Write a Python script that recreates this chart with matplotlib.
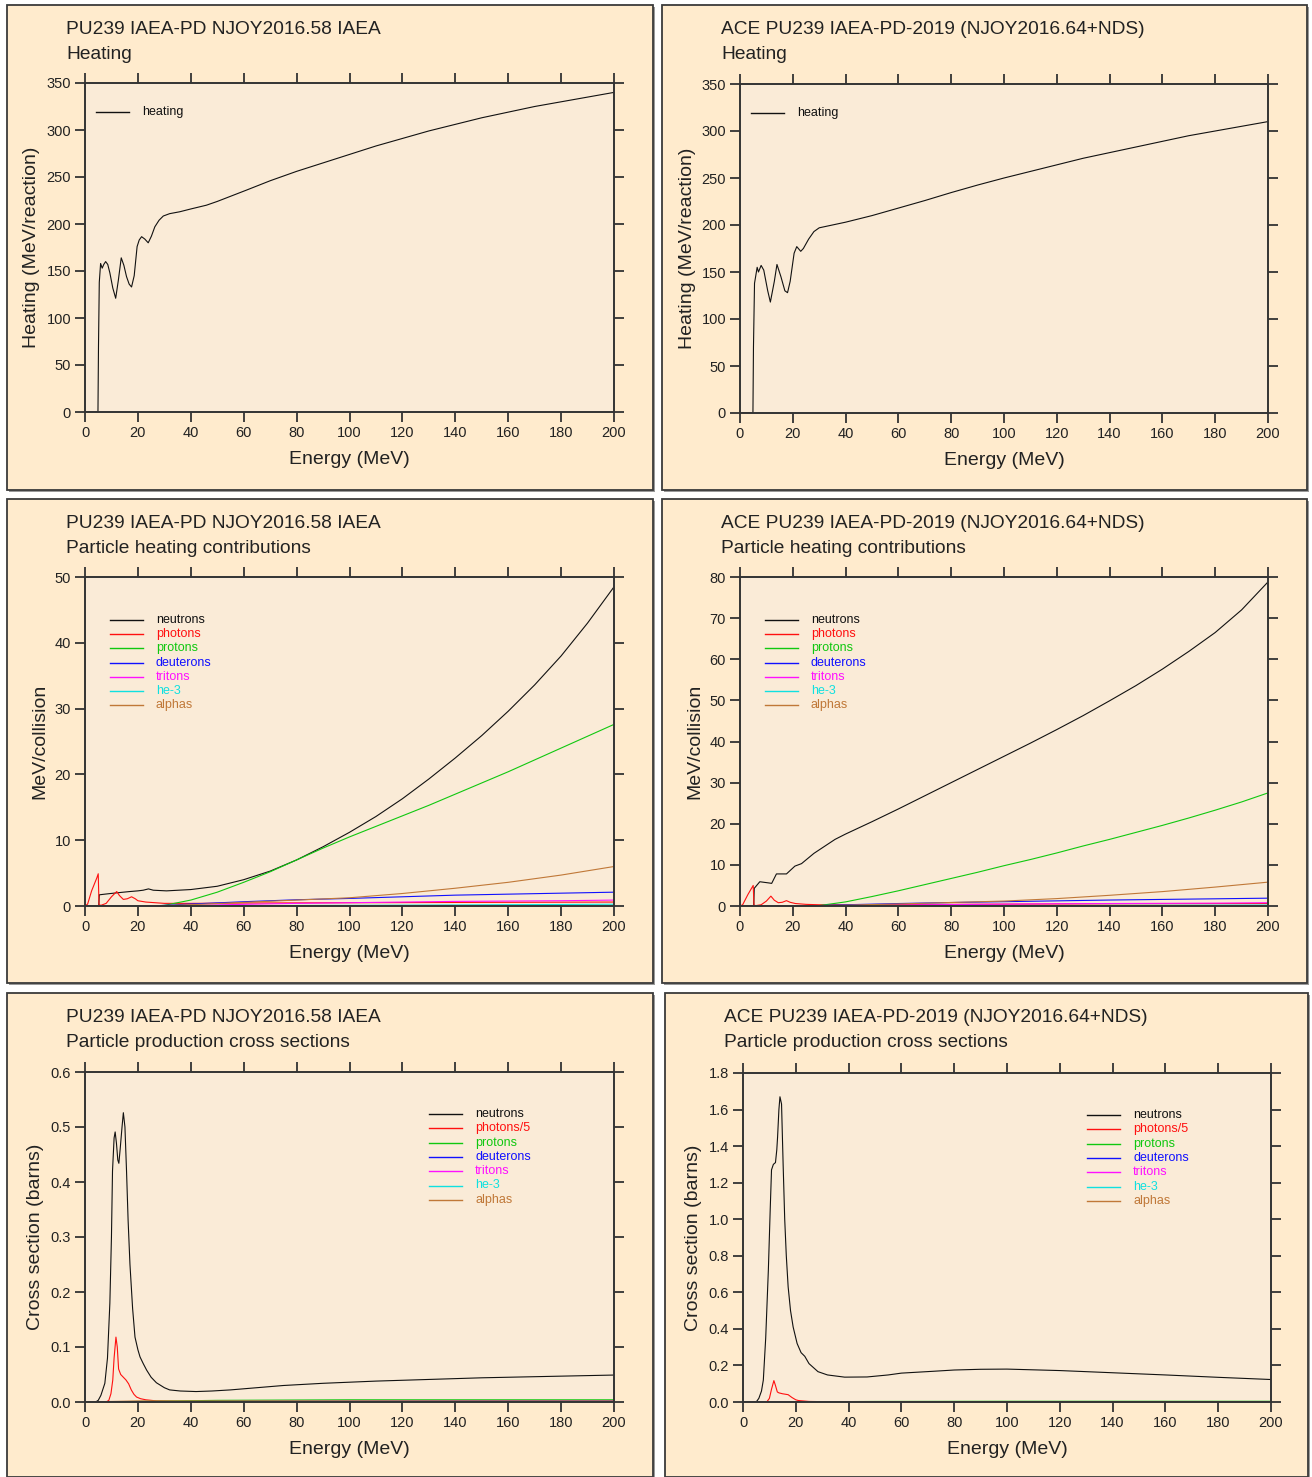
import matplotlib
matplotlib.use('Agg')
import matplotlib.pyplot as plt
from matplotlib.patches import Rectangle

plt.rcParams['font.family'] = ['Liberation Sans', 'DejaVu Sans']

W, H = 1312, 1477

# ---------------- data ----------------
particles = ['neutrons', 'photons', 'protons', 'deuterons', 'tritons', 'he-3', 'alphas']
colors = ['#111111', '#ff1010', '#10c810', '#1010ff', '#ff10ff', '#10e0e0', '#c07838']

# Heating, IAEA (top left)
e_heat_a = [0, 4.9, 5.1, 5.4, 5.9, 6.5, 7.1, 7.8, 8.6, 9.4, 10.5, 11.6, 12.6, 13.7, 14.7, 15.7, 16.7,
            17.6, 18.6, 19.7, 20.5, 21.4, 22.6, 23.9, 25.1, 26.4, 28, 29.6, 32, 35.8, 40, 45.9, 50,
            61, 70, 80, 90, 100, 110, 120, 130, 140, 150, 160, 170, 180, 190, 200]
heat_a = [0, 0, 70, 138, 158, 153, 157, 160, 157, 148, 132, 121, 140, 164, 156, 144, 136,
          133, 145, 176, 183, 186.5, 184, 180, 187, 197, 204, 208.5, 211, 213, 216, 220, 224,
          236, 246, 256, 265, 274, 283, 291, 299, 306, 313, 319, 325, 330, 335, 340]

# Heating, NDS (top right)
e_heat_b = [0, 4.9, 5.1, 5.5, 6.5, 7, 8, 9, 10.5, 11.5, 13, 14, 15.5, 17, 18, 19, 20.5, 21.5,
            23, 24, 26, 28, 30, 35, 40, 50, 60, 70, 80, 90, 100, 110, 120, 130, 140, 150, 160,
            170, 180, 190, 200]
heat_b = [0, 0, 70, 138, 155, 150, 157, 152, 130, 118, 140, 158, 145, 130, 128, 140, 170, 177,
          172, 175, 185, 193, 197, 200, 203, 210, 218, 226, 234.5, 242.5, 250, 257, 264, 271, 277,
          283, 289, 295, 300, 305, 310]

# Particle heating contributions, IAEA (middle left)
e_ml_n = [0, 5.2, 5.4, 7.5, 12, 17, 20, 22, 24, 25.8, 30.8, 40, 50, 60, 70, 80, 90, 100, 110,
          120, 130, 140, 150, 160, 170, 180, 190, 200]
ml_n = [0, 0, 1.7, 1.8, 2.0, 2.2, 2.3, 2.4, 2.6, 2.4, 2.3, 2.5, 3.0, 4.0, 5.3, 7.0, 9.0, 11.2, 13.6,
        16.3, 19.3, 22.5, 25.9, 29.6, 33.6, 38.0, 43.0, 48.5]
e_ml_g = [0, 1, 2.5, 4.5, 5, 5.3, 6, 8, 10, 12, 13, 14.5, 16, 17.6, 19, 20, 23, 30, 40, 60, 100, 150, 200]
ml_g = [0, 0.3, 2.3, 4.3, 4.9, 0.2, 0.1, 0.4, 1.4, 2.2, 1.6, 1.0, 1.1, 1.4, 1.1, 0.8, 0.6, 0.4, 0.4,
        0.45, 0.5, 0.55, 0.6]
e_ml_p = [0, 27, 30, 40, 50, 60, 70, 80, 90, 100, 110, 120, 130, 140, 150, 160, 170, 180, 190, 200]
ml_p = [0, 0, 0.1, 0.9, 2.1, 3.6, 5.2, 7.0, 8.8, 10.5, 12.1, 13.7, 15.3, 17.0, 18.7, 20.4, 22.2,
        24.0, 25.8, 27.6]
e_ml_x = [0, 25, 40, 60, 80, 100, 120, 140, 160, 180, 200]
ml_d = [0, 0, 0.3, 0.65, 0.95, 1.15, 1.4, 1.65, 1.8, 1.95, 2.1]
ml_t = [0, 0, 0.1, 0.25, 0.4, 0.5, 0.6, 0.7, 0.75, 0.8, 0.9]
ml_h = [0, 0, 0.02, 0.05, 0.08, 0.1, 0.13, 0.16, 0.2, 0.23, 0.27]
ml_a = [0, 0, 0.2, 0.55, 0.9, 1.25, 1.9, 2.7, 3.6, 4.7, 6.0]

# Particle heating contributions, NDS (middle right)
e_mr_n = [0, 5.2, 5.4, 7.5, 11, 12, 13.8, 17.6, 20.8, 23.3, 28, 36, 40, 50, 60, 70, 80, 90, 100,
          110, 120, 130, 140, 150, 160, 170, 180, 190, 200]
mr_n = [0, 0, 4.3, 5.9, 5.6, 5.5, 7.8, 7.8, 9.7, 10.3, 12.8, 16.2, 17.5, 20.5, 23.6, 26.8, 30,
        33.2, 36.4, 39.6, 42.9, 46.3, 49.9, 53.6, 57.6, 61.9, 66.5, 72, 78.8]
e_mr_g = [0, 1, 3, 5, 5.3, 6, 8, 10, 11.7, 13, 14.5, 16, 17.6, 19, 21, 25, 30, 60, 100, 150, 200]
mr_g = [0, 0.3, 2.8, 5.0, 0.2, 0.1, 0.3, 1.2, 2.4, 1.4, 0.8, 0.9, 1.3, 0.9, 0.6, 0.4, 0.3, 0.35,
        0.45, 0.55, 0.6]
e_mr_p = [0, 28, 30, 40, 50, 60, 70, 80, 90, 100, 110, 120, 130, 140, 150, 160, 170, 180, 190, 200]
mr_p = [0, 0, 0.1, 1.0, 2.3, 3.7, 5.2, 6.7, 8.2, 9.8, 11.3, 12.9, 14.6, 16.2, 17.9, 19.6, 21.4,
        23.3, 25.3, 27.5]
e_mr_x = [0, 25, 40, 60, 80, 100, 120, 140, 160, 180, 200]
mr_d = [0, 0, 0.3, 0.6, 0.85, 1.05, 1.25, 1.45, 1.6, 1.75, 1.9]
mr_t = [0, 0, 0.1, 0.25, 0.35, 0.45, 0.55, 0.6, 0.65, 0.7, 0.8]
mr_h = [0, 0, 0.02, 0.05, 0.07, 0.09, 0.11, 0.14, 0.17, 0.2, 0.23]
mr_a = [0, 0, 0.2, 0.5, 0.85, 1.2, 1.8, 2.6, 3.5, 4.6, 5.8]

# Particle production cross sections, IAEA (bottom left)
e_bl_n = [0, 4, 5, 6, 7.5, 8.5, 9.4, 10, 10.4, 11, 11.4, 11.9, 12.4, 12.8, 13.3, 14, 14.5, 15.1,
          15.7, 16.3, 17, 18, 18.9, 20, 20.8, 22, 23.3, 25, 27, 30, 32, 36, 42, 48, 55, 65, 75,
          90, 110, 130, 150, 170, 190, 200]
bl_n = [0, 0, 0.003, 0.012, 0.034, 0.08, 0.18, 0.3, 0.42, 0.48, 0.491, 0.47, 0.44, 0.434, 0.46,
        0.5, 0.526, 0.5, 0.42, 0.33, 0.25, 0.17, 0.118, 0.095, 0.082, 0.07, 0.058, 0.045, 0.035,
        0.026, 0.022, 0.02, 0.019, 0.02, 0.022, 0.026, 0.03, 0.034, 0.038, 0.041, 0.044, 0.046,
        0.048, 0.049]
e_bl_g = [0, 8, 9, 9.8, 10.5, 11, 11.7, 12.2, 12.7, 13.5, 14.5, 15.5, 16.5, 17.5, 18.5, 19.5, 21,
          23, 27, 35, 200]
bl_g = [0, 0, 0.003, 0.015, 0.04, 0.08, 0.118, 0.1, 0.06, 0.05, 0.045, 0.04, 0.033, 0.022, 0.014,
        0.009, 0.006, 0.004, 0.002, 0.001, 0.0005]
e_bl_x = [0, 20, 50, 100, 150, 200]
bl_p = [0, 0.001, 0.003, 0.004, 0.004, 0.004]
bl_d = [0, 0.0005, 0.001, 0.0015, 0.002, 0.002]
bl_t = [0, 0.0003, 0.0008, 0.001, 0.0012, 0.0013]
bl_h = [0, 0.0001, 0.0003, 0.0005, 0.0006, 0.0007]
bl_a = [0, 0.002, 0.002, 0.002, 0.002, 0.002]

# Particle production cross sections, NDS (bottom right)
e_br_n = [0, 5, 6, 7, 7.7, 8.6, 9.6, 10.3, 10.8, 11.5, 12.3, 12.8, 13.1, 13.6, 14, 14.6, 15.2,
          15.8, 16.4, 17.1, 18, 19, 20.5, 22, 23.4, 25, 28.4, 32, 38.5, 47, 55, 60, 72, 80, 90,
          100, 120, 140, 160, 180, 200]
br_n = [0, 0, 0.02, 0.06, 0.12, 0.35, 0.72, 1.05, 1.27, 1.3, 1.31, 1.38, 1.45, 1.6, 1.67, 1.63,
        1.3, 1.0, 0.8, 0.63, 0.5, 0.41, 0.32, 0.27, 0.25, 0.21, 0.166, 0.148, 0.136, 0.137, 0.148,
        0.158, 0.168, 0.175, 0.179, 0.18, 0.172, 0.16, 0.148, 0.135, 0.123]
e_br_g = [0, 9, 10, 10.8, 11.7, 12.3, 13, 13.6, 15, 17.1, 18.5, 20, 21, 25, 35, 200]
br_g = [0, 0, 0.02, 0.07, 0.117, 0.09, 0.055, 0.05, 0.045, 0.04, 0.025, 0.012, 0.008, 0.003,
        0.001, 0.0005]
e_br_x = [0, 20, 50, 100, 150, 200]
br_p = [0, 0.001, 0.003, 0.004, 0.004, 0.004]
br_d = [0, 0.0005, 0.001, 0.0015, 0.002, 0.002]
br_t = [0, 0.0003, 0.0008, 0.001, 0.0012, 0.0013]
br_h = [0, 0.0001, 0.0003, 0.0005, 0.0006, 0.0007]
br_a = [0, 0.002, 0.002, 0.002, 0.002, 0.002]

xticks = list(range(0, 201, 20))

fig = plt.figure(figsize=(W / 100, H / 100), dpi=100)
fig.patch.set_facecolor('white')


def fx(px):
    return px / W


def fy(py):
    return 1 - py / H


def panel_box(l, t, r, b):
    # grey drop shadow, then the peach panel (kept below the axes)
    fig.patches.append(Rectangle((fx(l + 2), fy(b + 2)), fx(r - l), (b - t) / H,
                                 transform=fig.transFigure, facecolor='#9a9a9a',
                                 edgecolor='none', zorder=-2))
    fig.patches.append(Rectangle((fx(l), fy(b)), fx(r - l), (b - t) / H,
                                 transform=fig.transFigure, facecolor='#ffebcd',
                                 edgecolor='#3a3a3a', lw=1.3, zorder=-1))


def make_axes(box, ax_px, title1, title2, ylabel, ylab_x, ymax, ystep, yfmt):
    l, t, r, b = box
    panel_box(l, t, r, b)
    al, at, ar, ab = ax_px
    ax = fig.add_axes([fx(al), fy(ab), (ar - al) / W, (ab - at) / H])
    ax.set_facecolor('#faebd7')
    ax.set_xlim(0, 200)
    ax.set_ylim(0, ymax)
    ax.set_xticks(xticks)
    yt = [i * ystep for i in range(int(round(ymax / ystep)) + 1)]
    ax.set_yticks(yt)
    ax.set_yticklabels([yfmt.format(v) for v in yt])
    for s in ax.spines.values():
        s.set_color('#333333')
        s.set_linewidth(1.4)
    ax.tick_params(direction='out', length=7.5, width=1.3, color='#333333',
                   top=True, right=True, labelsize=10.5, labelcolor='#222222', pad=2.5)
    fig.text(fx(l + 59), fy(t + 25), title1, fontsize=13.8, color='#222222', va='center')
    fig.text(fx(l + 59), fy(t + 49.5), title2, fontsize=13.8, color='#222222', va='center')
    fig.text(fx((al + ar) / 2), fy(ab + 47), 'Energy (MeV)', fontsize=14, color='#222222',
             ha='center', va='center')
    fig.text(fx(ylab_x), fy((at + ab) / 2), ylabel, fontsize=14, color='#222222',
             ha='center', va='center', rotation=90)
    return ax


def legend(ax, ax_px, names, cols, x0, y0, dy):
    al, at, ar, ab = ax_px
    w, h = ar - al, ab - at
    for i, (nm, c) in enumerate(zip(names, cols)):
        yy = 1 - (y0 + i * dy - at) / h
        ax.plot([(x0 - al) / w, (x0 + 33 - al) / w], [yy, yy], color=c, lw=1.0,
                transform=ax.transAxes)
        ax.text((x0 + 46 - al) / w, yy, nm, color=c, fontsize=9, va='center',
                transform=ax.transAxes)


LW = 0.8

# top left
box = (7, 5, 653, 490)
apx = (85, 83, 614, 412)
ax = make_axes(box, apx, 'PU239 IAEA-PD NJOY2016.58 IAEA', 'Heating',
               'Heating (MeV/reaction)', 32, 350, 50, '{:.0f}')
ax.plot(e_heat_a, heat_a, color=colors[0], lw=LW)
legend(ax, apx, ['heating'], [colors[0]], 96, 112, 14)

# top right
box = (662, 5, 1307, 490)
apx = (740, 84, 1268, 413)
ax = make_axes(box, apx, 'ACE PU239 IAEA-PD-2019 (NJOY2016.64+NDS)', 'Heating',
               'Heating (MeV/reaction)', 687, 350, 50, '{:.0f}')
ax.plot(e_heat_b, heat_b, color=colors[0], lw=LW)
legend(ax, apx, ['heating'], [colors[0]], 751, 113, 14)

# middle left
box = (7, 499, 653, 983)
apx = (85, 577, 614, 906)
ax = make_axes(box, apx, 'PU239 IAEA-PD NJOY2016.58 IAEA', 'Particle heating contributions',
               'MeV/collision', 40, 50, 10, '{:.0f}')
series = [(e_ml_n, ml_n), (e_ml_g, ml_g), (e_ml_p, ml_p), (e_ml_x, ml_d), (e_ml_x, ml_t),
          (e_ml_x, ml_h), (e_ml_x, ml_a)]
for (e, v), c in zip(series, colors):
    ax.plot(e, v, color=c, lw=LW)
legend(ax, apx, particles, colors, 110, 620, 14.2)

# middle right
box = (662, 499, 1307, 983)
apx = (740, 577, 1268, 906)
ax = make_axes(box, apx, 'ACE PU239 IAEA-PD-2019 (NJOY2016.64+NDS)',
               'Particle heating contributions', 'MeV/collision', 695, 80, 10, '{:.0f}')
series = [(e_mr_n, mr_n), (e_mr_g, mr_g), (e_mr_p, mr_p), (e_mr_x, mr_d), (e_mr_x, mr_t),
          (e_mr_x, mr_h), (e_mr_x, mr_a)]
for (e, v), c in zip(series, colors):
    ax.plot(e, v, color=c, lw=LW)
legend(ax, apx, particles, colors, 765, 620, 14.2)

names_xs = ['neutrons', 'photons/5', 'protons', 'deuterons', 'tritons', 'he-3', 'alphas']

# bottom left
box = (7, 993, 653, 1477)
apx = (85, 1072, 614, 1402)
ax = make_axes(box, apx, 'PU239 IAEA-PD NJOY2016.58 IAEA', 'Particle production cross sections',
               'Cross section (barns)', 36, 0.6, 0.1, '{:.1f}')
series = [(e_bl_n, bl_n), (e_bl_g, bl_g), (e_bl_x, bl_p), (e_bl_x, bl_d), (e_bl_x, bl_t),
          (e_bl_x, bl_h), (e_bl_x, bl_a)]
for (e, v), c in zip(series, colors):
    ax.plot(e, v, color=c, lw=LW)
legend(ax, apx, names_xs, colors, 429, 1114, 14.3)

# bottom right
box = (665, 993, 1308, 1477)
apx = (743, 1073, 1271, 1402)
ax = make_axes(box, apx, 'ACE PU239 IAEA-PD-2019 (NJOY2016.64+NDS)',
               'Particle production cross sections', 'Cross section (barns)', 694, 1.8, 0.2,
               '{:.1f}')
series = [(e_br_n, br_n), (e_br_g, br_g), (e_br_x, br_p), (e_br_x, br_d), (e_br_x, br_t),
          (e_br_x, br_h), (e_br_x, br_a)]
for (e, v), c in zip(series, colors):
    ax.plot(e, v, color=c, lw=LW)
legend(ax, apx, names_xs, colors, 1087, 1115, 14.3)

fig.savefig('out.png', dpi=100, facecolor='white')
